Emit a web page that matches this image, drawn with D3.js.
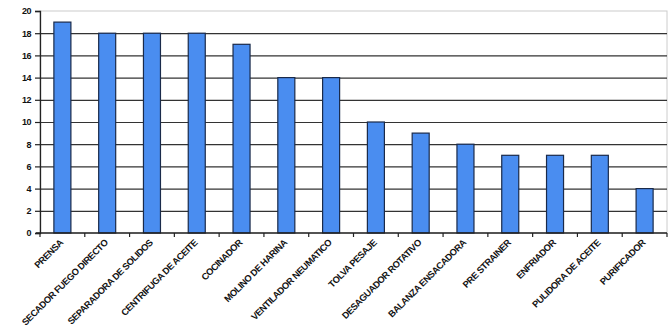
<!DOCTYPE html>
<html><head><meta charset="utf-8">
<script src="https://cdn.jsdelivr.net/npm/d3@7"></script>
<style>body{margin:0;background:#fff}svg{display:block}</style>
</head><body>
<script>
const categories = ["PRENSA","SECADOR FUEGO DIRECTO","SEPARADORA DE SOLIDOS","CENTRIFUGA DE ACEITE","COCINADOR","MOLINO DE HARINA","VENTILADOR NEUMATICO","TOLVA PESAJE","DESAGUADOR ROTATIVO","BALANZA ENSACADORA","PRE STRAINER","ENFRIADOR","PULIDORA DE ACEITE","PURIFICADOR"];
const values = [19,18,18,18,17,14,14,10,9,8,7,7,7,4];
const yTicks = [0,2,4,6,8,10,12,14,16,18,20];

const W = 672, H = 329;
const m = {left:40, right:5, top:11, bottom:96};
const svg = d3.select("body").append("svg").attr("width",W).attr("height",H);
const x = d3.scaleBand().domain(categories).range([m.left, W-m.right]).paddingInner(0.62).paddingOuter(0.31);
const y = d3.scaleLinear().domain([0,20]).range([H-m.bottom, m.top]);

// plot border
svg.append("rect").attr("x",m.left).attr("y",m.top).attr("width",W-m.right-m.left).attr("height",H-m.bottom-m.top)
  .attr("fill","none").attr("stroke","#ccc").attr("stroke-width",1);
// gridlines via axis
const grid = svg.append("g").attr("class","grid").attr("transform",`translate(${m.left},0)`)
  .call(d3.axisLeft(y).tickValues(yTicks.filter(d=>d>0&&d<20)).tickSize(-(W-m.right-m.left)).tickFormat(""));
grid.select(".domain").remove();
grid.selectAll(".tick line").attr("stroke","#333").attr("stroke-width",1.2);

// bars
svg.append("g").selectAll("rect").data(values).join("rect")
  .attr("x",(d,i)=>x(categories[i])).attr("width",x.bandwidth())
  .attr("y",d=>y(d)).attr("height",d=>y(0)-y(d))
  .attr("fill","#4a8df0").attr("stroke","#1a2a4a").attr("stroke-width",1.2);

// y axis
const ya = svg.append("g").attr("transform",`translate(${m.left},0)`)
  .call(d3.axisLeft(y).tickValues(yTicks).tickSize(5).tickPadding(4));
ya.select(".domain").attr("stroke","#222").attr("stroke-width",1.3);
ya.selectAll(".tick line").attr("stroke","#222").attr("stroke-width",1.2);
ya.selectAll("text").attr("font-family","Liberation Sans, Arial, sans-serif").attr("font-size",9).attr("font-weight","bold").attr("fill","#111").attr("letter-spacing","-0.5");

// x axis
const n = categories.length;
const xa = svg.append("g").attr("transform",`translate(0,${y(0)})`);
xa.append("line").attr("x1",m.left-4).attr("x2",W-m.right).attr("stroke","#222").attr("stroke-width",1.3);
xa.selectAll("line.t").data(d3.range(n+1)).join("line").attr("class","t")
  .attr("x1",i=>m.left+ i*(W-m.right-m.left)/n).attr("x2",i=>m.left+ i*(W-m.right-m.left)/n)
  .attr("y1",0).attr("y2",4).attr("stroke","#222").attr("stroke-width",1.2);
xa.selectAll("text").data(categories).join("text")
  .attr("transform",d=>`translate(${x(d)+x.bandwidth()/2-1},8) rotate(-45)`)
  .attr("text-anchor","end").attr("dy","0.35em")
  .attr("font-family","Liberation Sans, Arial, sans-serif").attr("font-size",9.3).attr("font-weight","bold")
  .attr("letter-spacing","-0.45").attr("fill","#111").text(d=>d);
</script>
</body></html>
